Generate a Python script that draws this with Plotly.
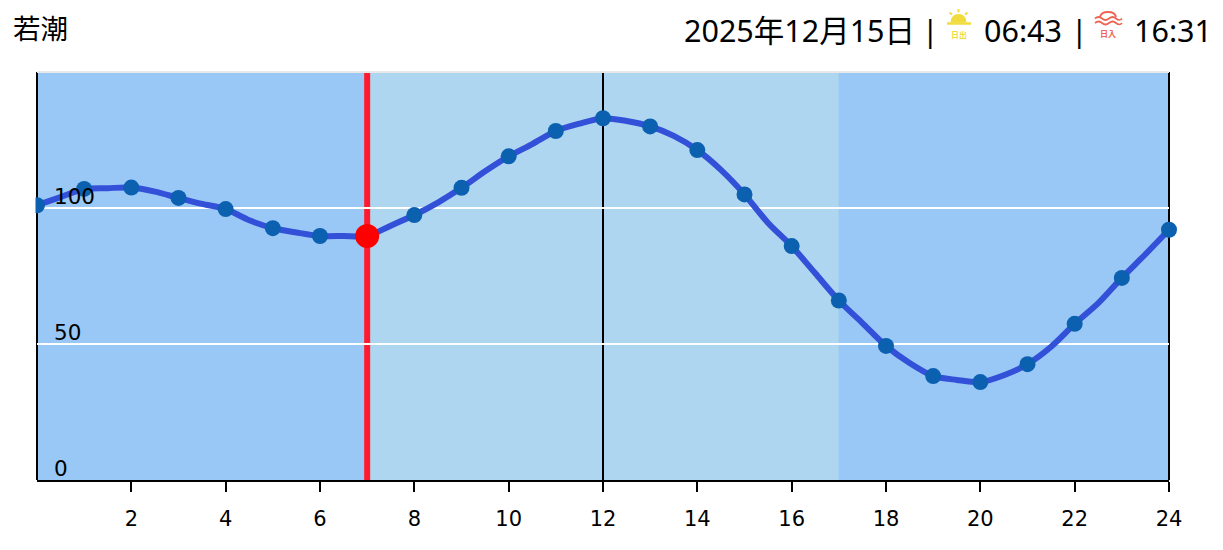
import plotly.graph_objects as go

W, H = 1223, 550
L, R, T, B = 37, 1169, 72, 480

hours = list(range(25))
tide = [101, 107, 107.5, 103.7, 99.6, 92.6, 89.7, 89.7, 97.4, 107.4, 119, 128.3, 133,
        130, 121.3, 105, 86, 66, 49.3, 38.2, 36, 42.6, 57.4, 74.3, 92]
half_hours = [h / 2 for h in range(49)]
tide_half = [101, 104, 107, 107.3, 107.5, 106, 103.7, 101.5, 99.6, 95.5, 92.6, 91, 89.7, 89.7, 89.7, 93.5,
             97.4, 102, 107.4, 113.5, 119, 123.5, 128.3, 131, 133, 132, 130, 126.5, 121.3, 114, 105, 94.5,
             86, 76, 66, 57.7, 49.3, 43, 38.2, 36.8, 36, 38.5, 42.6, 49, 57.4, 65, 74.3, 83, 92]
now_hour = 7
now_value = 89.7
noon_hour = 12
night_end = 7
night_start = 17
y_ticks = [0, 50, 100]
x_ticks = list(range(2, 25, 2))
title_left = "若潮"
date_text = "2025年12月15日"
sep = "|"
sunrise = "06:43"
sunset = "16:31"


def px(x):
    return (x - L) / (R - L)


def py(y):
    return (B - y) / (B - T)


fig = go.Figure()
shapes = [
    dict(type="rect", xref="x", yref="paper", x0=0, x1=night_end, y0=0, y1=1, fillcolor="#99c8f7", line_width=0, layer="below"),
    dict(type="rect", xref="x", yref="paper", x0=night_end, x1=night_start, y0=0, y1=1, fillcolor="#afd6f0", line_width=0, layer="below"),
    dict(type="rect", xref="x", yref="paper", x0=night_start, x1=24, y0=0, y1=1, fillcolor="#99c8f7", line_width=0, layer="below"),
    dict(type="line", xref="x", yref="paper", x0=noon_hour, x1=noon_hour, y0=0, y1=1, line=dict(color="black", width=2), layer="between"),
    dict(type="line", xref="x", yref="paper", x0=now_hour, x1=now_hour, y0=0, y1=1, line=dict(color="#ff1a2e", width=6), layer="between"),
    dict(type="line", xref="paper", yref="paper", x0=0, x1=1, y0=1, y1=1, line=dict(color="#e8e8e8", width=2)),
    dict(type="line", xref="paper", yref="paper", x0=0, x1=0, y0=0, y1=1, line=dict(color="black", width=2), layer="between"),
    dict(type="line", xref="paper", yref="paper", x0=1, x1=1, y0=0, y1=1, line=dict(color="black", width=2), layer="between"),
    dict(type="rect", xref="paper", yref="paper", x0=px(18), x1=px(35.5), y0=py(190), y1=py(220), fillcolor="white", line_width=0, layer="above"),
]


def pline(x0, y0, x1, y1, color, w=2):
    shapes.append(dict(type="line", xref="paper", yref="paper", x0=px(x0), y0=py(y0), x1=px(x1), y1=py(y1), line=dict(color=color, width=w)))


# sunrise icon
sun = "#f1dc3e"
shapes.append(dict(type="path", xref="paper", yref="paper",
                   path=f"M {px(951)} {py(22)} Q {px(951.5)} {py(14.5)} {px(958.5)} {py(14.5)} Q {px(965.5)} {py(14.5)} {px(966)} {py(22)} Z",
                   fillcolor=sun, line=dict(color=sun, width=1)))
pline(947, 23.5, 971, 23.5, sun, 2.5)
pline(958.5, 9, 958.5, 12.5, sun, 2)
pline(949.5, 12.5, 952, 14.5, sun, 2)
pline(967.5, 12.5, 965, 14.5, sun, 2)
# sunset icon
red = "#ee6352"
shapes.append(dict(type="path", xref="paper", yref="paper",
                   path=f"M {px(1100)} {py(17)} Q {px(1101)} {py(12)} {px(1108)} {py(12)} Q {px(1115)} {py(12)} {px(1116)} {py(17)}",
                   line=dict(color=red, width=1.8)))
for yy in (18.5, 23):
    shapes.append(dict(type="path", xref="paper", yref="paper",
                       path=f"M {px(1095)} {py(yy)} Q {px(1098.5)} {py(yy-3)} {px(1102)} {py(yy)} T {px(1109)} {py(yy)} T {px(1116)} {py(yy)} T {px(1122)} {py(yy)}",
                       line=dict(color=red, width=1.7)))

fig.add_trace(go.Scatter(x=half_hours, y=tide_half, mode="lines",
                         line=dict(color="#3350d8", width=6, shape="spline", smoothing=0.8),
                         hoverinfo="skip", showlegend=False, cliponaxis=False))
fig.add_trace(go.Scatter(x=hours, y=tide, mode="markers",
                         marker=dict(color="#0b60b0", size=16), hoverinfo="skip", showlegend=False, cliponaxis=False))
fig.add_trace(go.Scatter(x=[now_hour], y=[now_value], mode="markers",
                         marker=dict(color="#ff0000", size=24), hoverinfo="skip", showlegend=False, cliponaxis=False))

CJK = "Noto Sans, Noto Sans CJK JP, sans-serif"


def note(x, y, text, size, color="black", anchor="left", family=CJK):
    return dict(xref="paper", yref="paper", x=px(x), y=py(y), text=text, showarrow=False, xanchor=anchor,
                yanchor="middle", font=dict(size=size, color=color, family=family))


anns = [
    note(11, 29, title_left, 27.5),
    note(682, 30, date_text, 30.5),
    note(920, 31, sep, 30),
    note(982, 30, sunrise, 30.5),
    note(1069, 31, sep, 30),
    note(1132, 30, sunset, 30.5),
    note(958.5, 34, "<b>日出</b>", 8, sun, "center"),
    note(1108, 33.5, "<b>日入</b>", 8, red, "center"),
]
for v in y_ticks:
    anns.append(dict(xref="paper", yref="y", x=0, y=v, text=str(v), showarrow=False, xanchor="left", yanchor="middle",
                     xshift=15, yshift=12, font=dict(size=21.5, family="DejaVu Sans", color="black")))

fig.update_layout(
    width=W, height=H, autosize=False,
    margin=dict(l=L, r=W - R, t=T, b=H - B, pad=0),
    paper_bgcolor="white", plot_bgcolor="#99c8f7",
    shapes=shapes, annotations=anns,
    font=dict(family="DejaVu Sans", color="black", size=20),
    xaxis=dict(range=[0, 24], tickvals=x_ticks, ticks="outside", ticklen=10, tickwidth=2, tickcolor="black",
               showgrid=False, zeroline=False, showline=True, linecolor="black", linewidth=2,
               ticklabelstandoff=9,
               tickfont=dict(size=21, family="DejaVu Sans", color="black")),
    yaxis=dict(range=[0, 150], tickvals=y_ticks, ticks="", showticklabels=False, showgrid=True, gridcolor="white",
               gridwidth=2, zeroline=False, showline=False),
)
fig.write_html("out.html", config=dict(displayModeBar=False),
               post_script="document.body.style.margin='0';document.body.style.overflow='hidden';")
